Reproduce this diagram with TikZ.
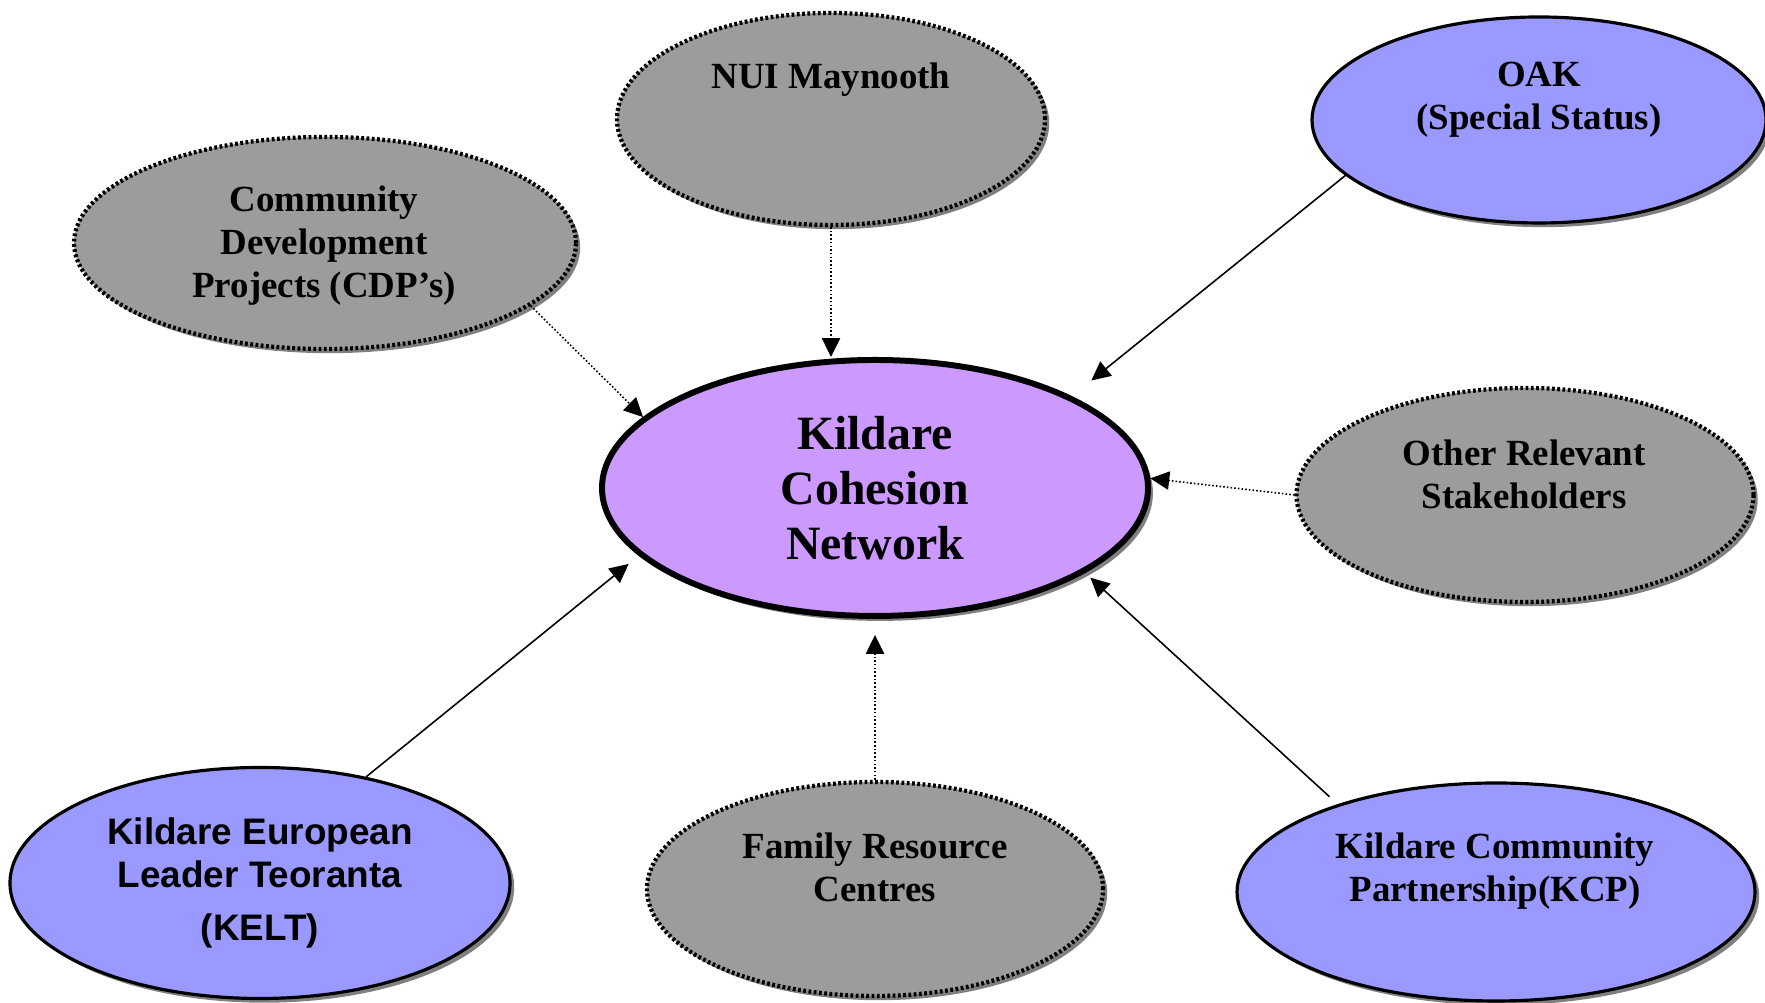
\documentclass[tikz,border=0pt]{standalone}
\usepackage{fontspec}
\setmainfont{Liberation Serif}
\newfontfamily\arialfont{Liberation Sans}
\usepackage{tikz}
\usetikzlibrary{shapes,arrows.meta,shadows}
\definecolor{hubfill}{HTML}{CC99FF}
\definecolor{partnerfill}{HTML}{9999FF}
\definecolor{otherfill}{HTML}{9C9C9C}
\tikzstyle{node_hub} = [ellipse, draw, line width=1.7pt, fill=hubfill, inner sep=0pt, align=center, font=\bfseries\fontsize{13.6}{15.6}\selectfont, drop shadow={shadow xshift=1.4pt, shadow yshift=-1.4pt, fill=black!50, opacity=1}]
\tikzstyle{node_partner} = [ellipse, draw, line width=0.9pt, fill=partnerfill, inner sep=0pt, align=center, font=\bfseries\fontsize{10.5}{12.2}\selectfont, drop shadow={shadow xshift=1.2pt, shadow yshift=-1.2pt, fill=black!50, opacity=1}]
\tikzstyle{node_other} = [ellipse, draw, line width=1.2pt, dash pattern=on 0.8pt off 0.7pt, fill=otherfill, inner sep=0pt, align=center, font=\bfseries\fontsize{10.5}{12.2}\selectfont, drop shadow={shadow xshift=1.2pt, shadow yshift=-1.2pt, fill=black!50, opacity=1}]
\tikzstyle{text_normal} = [inner sep=0pt, align=center, font=\bfseries\fontsize{10.5}{12.2}\selectfont]
\tikzstyle{edge_solid} = [line width=0.45pt, -{Triangle[length=5.4pt, width=5.2pt]}]
\tikzstyle{edge_dotted} = [line width=0.45pt, dash pattern=on 0.45pt off 0.6pt, -{Triangle[length=5.4pt, width=5.2pt]}]

\begin{document}
\begin{tikzpicture}
\useasboundingbox (0,0) rectangle (17.65,10.03);

\node (KCN) at (8.75,5.15) [node_hub, minimum width=5.46cm, minimum height=2.56cm] {Kildare\\Cohesion\\Network};

\node (NUI) at (8.31,8.84) [node_other, minimum width=4.28cm, minimum height=2.12cm] {};
\node (CDP) at (3.25,7.60) [node_other, minimum width=5.02cm, minimum height=2.12cm] {};
\node (ORS) at (15.25,5.08) [node_other, minimum width=4.57cm, minimum height=2.14cm] {};
\node (FRC) at (8.75,1.14) [node_other, minimum width=4.56cm, minimum height=2.14cm] {};

\node (OAK) at (15.39,8.83) [node_partner, minimum width=4.54cm, minimum height=2.06cm] {};
\node (KELT) at (2.60,1.20) [node_partner, minimum width=5.00cm, minimum height=2.31cm, font=\arialfont\bfseries\fontsize{10.5}{12.2}\selectfont] {Kildare European\\Leader Teoranta\\[3pt](KELT)};
\node (KCP) at (14.96,1.11) [node_partner, minimum width=5.18cm, minimum height=2.18cm] {};

% labels, mostly in the upper half
\node (NUIt) at (8.31,9.23) [text_normal] {NUI Maynooth};
\node (CDPt) at (3.24,7.57) [text_normal] {Community\\Development\\Projects (CDP’s)};
\node (OAKt) at (15.39,9.03) [text_normal] {OAK\\(Special Status)};
\node (ORSt) at (15.24,5.29) [text_normal] {Other Relevant\\Stakeholders};
\node (FRCt) at (8.75,1.36) [text_normal] {Family Resource\\Centres};
\node (KCPt) at (14.95,1.32) [text_normal] {Kildare Community\\Partnership(KCP)};

\draw[edge_dotted] (NUI.south)--(NUI.south |- KCN.north);
\draw[edge_dotted] (CDP.-17)--(KCN.163);
\draw[edge_dotted] (ORS.west)--(KCN.2);
\draw[edge_dotted, shorten >=0.16cm] (FRC.north)--(KCN.south);

\draw[edge_solid, shorten >=0.25cm] (OAK.196)--(KCN.25);
\draw[edge_solid, shorten >=0.13cm] (KELT.45)--(KCN.196);
\draw[edge_solid, shorten <=0.11cm, shorten >=0.07cm] (KCP.151)--(KCN.-22);
\end{tikzpicture}
\end{document}
